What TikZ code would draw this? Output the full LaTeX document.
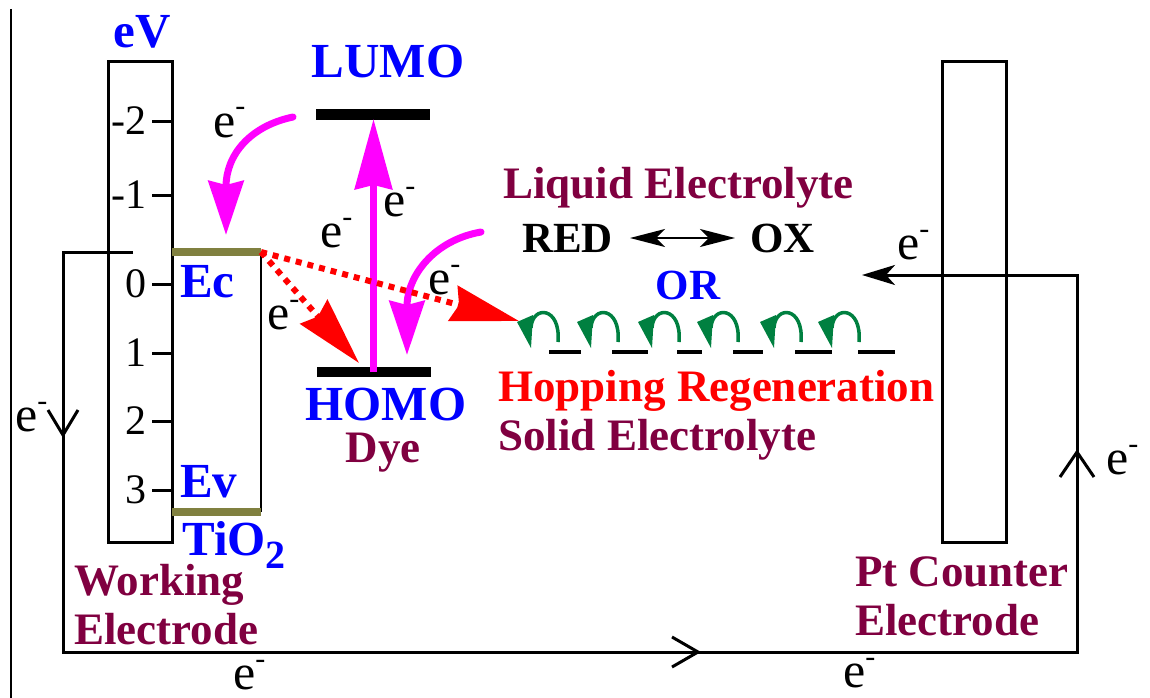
\documentclass[tikz,border=0pt]{standalone}
\usepackage{fontspec}
\setmainfont{Liberation Serif}[BoldFont={Liberation Serif Bold}]
\newfontfamily\tnr{Liberation Serif}[BoldFont={Liberation Serif Bold}]
\usetikzlibrary{arrows.meta}
\definecolor{wine}{RGB}{128,0,64}
\definecolor{olivebar}{RGB}{128,128,64}
\definecolor{hopgreen}{RGB}{0,128,64}
\definecolor{pinkmag}{RGB}{255,0,255}
\definecolor{pureblue}{RGB}{0,0,255}
\definecolor{purered}{RGB}{255,0,0}
\newcommand{\elec}{e\raisebox{21pt}{\fontsize{30}{30}\selectfont-}}
\tikzset{
 bigtxt/.style={font=\tnr\fontsize{45}{50}\selectfont\bfseries, inner sep=0pt, anchor=base west},
 bluetxt/.style={font=\tnr\fontsize{49}{54}\selectfont\bfseries, text=pureblue, inner sep=0pt, anchor=base west},
 etxt/.style={font=\tnr\fontsize{50}{55}\selectfont, inner sep=0pt, anchor=base west},
 numtxt/.style={font=\tnr\fontsize{42}{46}\selectfont, inner sep=0pt, anchor=base east},
 wire/.style={line width=3pt},
 levelbar/.style={draw=none, fill=black, minimum width=114pt, minimum height=10.5pt, inner sep=0pt},
 electrode/.style={draw, line width=3pt, minimum width=64pt, minimum height=480pt, inner sep=0pt},
 pinkarrow/.style={draw=pinkmag, line width=7pt, line cap=round, -{Stealth[length=54pt,width=35pt,inset=4pt]}},
 reddots/.style={draw=purered, line width=6pt, dash pattern=on 6pt off 6pt, -{Stealth[length=68pt,width=36pt,inset=6pt]}},
 hoparc/.style={draw=hopgreen, line width=3.5pt},
 hophead/.style={fill=hopgreen},
 olive/.style={draw=olivebar, line width=8.5pt},
}
\begin{document}
\begin{tikzpicture}[x=1pt,y=-1pt]
\useasboundingbox (0,0) rectangle (1150,698);

% thin left border line
\coordinate (bt) at (11,9);
\coordinate (bb) at (11,698);
\draw[line width=1.5pt] (bt) -- (bb);

% electrodes
\node[electrode] (we) at (140,302) {};
\node[electrode] (pt) at (974,302) {};

% energy axis ticks and numbers
\foreach \v/\yy in {-2/122,-1/195,0/284,1/353,2/421,3/490}{
  \draw[wire] (152,\yy) -- (172,\yy);
  \node[numtxt] at (147,\yy+13) {\v};
}

% TiO2 box
\coordinate (ecl) at (172,252);
\coordinate (ecr) at (261,252);
\coordinate (evl) at (172,512);
\coordinate (evr) at (261,512);
\draw[line width=2.5pt] (ecr) -- (evr);
\draw[olive] (ecl) -- (ecr);
\draw[olive] (evl) -- (evr);

% dye levels
\node[levelbar] (lumo) at (373,114.5) {};
\node[levelbar] (homo) at (373.5,372) {};

% circuit
\coordinate (c0) at (133,252);
\coordinate (c1) at (63,252);
\coordinate (c2) at (63,652);
\coordinate (c3) at (1077,652);
\coordinate (c4) at (1077,275);
\coordinate (c5) at (862,275);
\draw[wire, -{Stealth[length=33pt,width=20pt,inset=9pt]}] (c0) -- (c1) -- (c2) -- (c3) -- (c4) -- (c5);
% chevrons on the circuit
\draw[wire] (48,410) -- (63,435) -- (78,410);
\draw[wire] (672,637) -- (698,652) -- (672,667);
\draw[wire] (1060,477) -- (1077,452) -- (1094,477);

% magenta arrows
\coordinate (ph) at (373.5,372);
\coordinate (pl) at (373.5,119);
\draw[pinkarrow, line cap=butt, -{Stealth[length=70pt,width=37pt,inset=4pt]}] (ph) -- (pl);
\coordinate (m1s) at (293,117);
\coordinate (m1e) at (226,235);
\draw[pinkarrow] (m1s) .. controls (250,126) and (226,155) .. (m1e);
\coordinate (m2s) at (481,232);
\coordinate (m2e) at (407,355);
\draw[pinkarrow] (m2s) .. controls (435,240) and (407,275) .. (m2e);

% red dotted arrows
\coordinate (rt1) at (359,363);
\coordinate (rt2) at (519,321);
\draw[reddots] (ecr) -- (rt1);
\draw[reddots] (ecr) -- (rt2);

% hopping arrows and levels
\foreach \L in {517,577,638,697,760,818}{
  \draw[hoparc] (\L+41,342) .. controls (\L+44,306) and (\L+15,305) .. (\L+14,328);
  \fill[hophead] (\L,322) -- (\L+16,315) -- (\L+14,348) -- cycle;
}
\foreach \a/\b in {549/581,612/648,677/702,733/763,795/832,858/895}{
  \draw[line width=3.5pt] (\a,352) -- (\b,352);
}

% RED <-> OX
\node[bigtxt, font=\tnr\fontsize{43}{48}\selectfont\bfseries] (redn) at (522,252) {RED};
\node[bigtxt, font=\tnr\fontsize{43}{48}\selectfont\bfseries] (oxn) at (750,252) {OX};
\coordinate (dl) at (630,238);
\coordinate (dr) at (735,238);
\draw[line width=2pt, {Stealth[length=35pt,width=18pt,inset=9pt]}-{Stealth[length=35pt,width=18pt,inset=9pt]}] (dl) -- (dr);

% blue labels
\node[bluetxt, anchor=base] (ev) at (142,48) {eV};
\node[bluetxt, anchor=base] (lumot) at (388,78) {LUMO};
\node[bluetxt, anchor=base] (homot) at (386,420) {HOMO};
\node[bluetxt] (ect) at (180,297) {Ec};
\node[bluetxt] (evt) at (180,497) {Ev};
\node[bluetxt] (tio) at (182,555) {TiO\raisebox{-13pt}{\fontsize{40}{40}\selectfont 2}};
\node[bigtxt, anchor=base, text=pureblue, font=\tnr\fontsize{43}{48}\selectfont\bfseries] (ort) at (688,299) {OR};

% wine labels
\node[bigtxt, anchor=base, text=wine] (dye) at (383,462) {Dye};
\node[bigtxt, text=wine] (work1) at (74,595) {Working};
\node[bigtxt, text=wine] (work2) at (74,644) {Electrode};
\node[bigtxt, text=wine] (liq) at (503,198) {Liquid Electrolyte};
\node[bigtxt, text=purered] (hop) at (498,401) {Hopping Regeneration};
\node[bigtxt, text=wine] (sol) at (498,450) {Solid Electrolyte};
\node[bigtxt, text=wine] (pt1) at (855,586) {Pt Counter};
\node[bigtxt, text=wine] (pt2) at (855,635) {Electrode};

% electron labels
\node[etxt] (e1) at (213,137) {\elec};
\node[etxt] (e2) at (383,216) {\elec};
\node[etxt] (e3) at (320,247) {\elec};
\node[etxt] (e4) at (267,329) {\elec};
\node[etxt] (e5) at (428,294) {\elec};
\node[etxt] (e6) at (897,259) {\elec};
\node[etxt] (e7) at (1106,474) {\elec};
\node[etxt] (e8) at (15,431) {\elec};
\node[etxt] (e9) at (233,689) {\elec};
\node[etxt] (e10) at (843,687) {\elec};
\end{tikzpicture}
\end{document}
